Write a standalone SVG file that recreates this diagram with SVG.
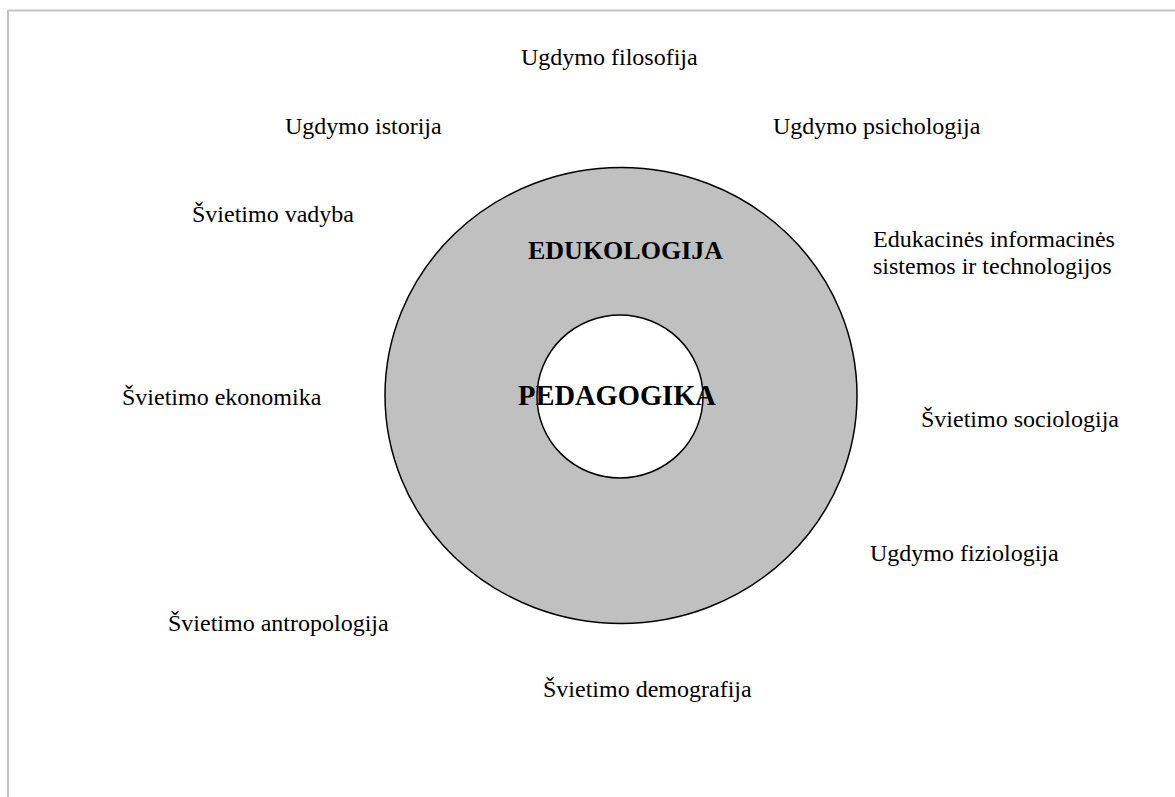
<svg xmlns="http://www.w3.org/2000/svg" width="1175" height="797" viewBox="0 0 1175 797">
<style>
.frame{stroke:#c4c4c4;stroke-width:2;fill:none}
.t{font-family:"Liberation Serif","Times New Roman",serif;font-size:24px;fill:#000}
.b{font-family:"Liberation Serif","Times New Roman",serif;font-weight:bold;fill:#000}
</style>
<rect width="1175" height="797" fill="#fff"/>
<g id="frame">
<line class="frame" x1="8" y1="10.5" x2="1175" y2="10.5"/>
<line class="frame" x1="8" y1="10" x2="8" y2="797"/>
</g>
<g id="edukologija">
<ellipse cx="621" cy="395.5" rx="236" ry="228" fill="#c0c0c0" stroke="#000" stroke-width="1.5"/>
<text class="b" x="528" y="259" font-size="26">EDUKOLOGIJA</text>
</g>
<g id="pedagogika">
<ellipse cx="620" cy="396.5" rx="83" ry="81.5" fill="#fff" stroke="#000" stroke-width="1.5"/>
<text class="b" x="518" y="405" font-size="28.5">PEDAGOGIKA</text>
</g>
<g id="n-filosofija"><text class="t" x="521" y="65">Ugdymo filosofija</text></g>
<g id="n-istorija"><text class="t" x="285" y="134">Ugdymo istorija</text></g>
<g id="n-psichologija"><text class="t" x="773" y="134">Ugdymo psichologija</text></g>
<g id="n-vadyba"><text class="t" x="192" y="222">Švietimo vadyba</text></g>
<g id="n-eist"><text class="t" x="873" y="247">Edukacinės informacinės</text><text class="t" x="873" y="274">sistemos ir technologijos</text></g>
<g id="n-ekonomika"><text class="t" x="122" y="405">Švietimo ekonomika</text></g>
<g id="n-sociologija"><text class="t" x="921" y="427">Švietimo sociologija</text></g>
<g id="n-fiziologija"><text class="t" x="870" y="561">Ugdymo fiziologija</text></g>
<g id="n-antropologija"><text class="t" x="168" y="631">Švietimo antropologija</text></g>
<g id="n-demografija"><text class="t" x="543" y="697">Švietimo demografija</text></g>
<g id="connectors"></g>
</svg>
